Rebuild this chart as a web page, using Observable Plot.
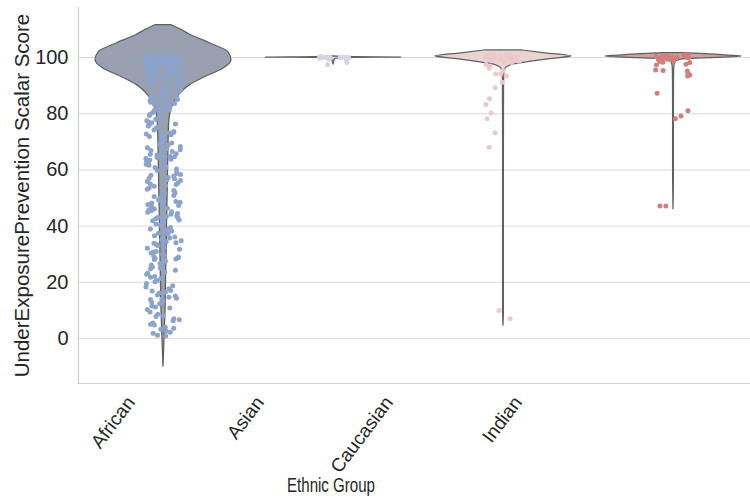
<!DOCTYPE html>
<html><head><meta charset="utf-8">
<script src="https://cdn.jsdelivr.net/npm/d3@7"></script>
<script src="https://cdn.jsdelivr.net/npm/@observablehq/plot@0.6"></script>
<style>
body{margin:0;background:#fff;}
#chart svg{display:block;}
</style></head><body><div id="chart"></div>
<script>
// ---------- data ----------
const groups = ["African", "Asian", "Caucasian", "Indian"];
const yTicks = [0, 20, 40, 60, 80, 100];
const yLabel = "UnderExposurePrevention Scalar Score";
const xLabel = "Ethnic Group";

const africanScores = [
  100, 99.6, 100, 98.7, 99.9, 97.4, 100, 99.1, 96.3, 100,
  98.2, 100, 99.4, 95.8, 100, 97.9, 99.8, 100, 94.6, 98.9,
  100, 96.7, 99.3, 100, 97.1, 95.2, 100, 98.4, 99.7, 93.8,
  100, 96.1, 98.6, 100, 99.2, 94.9, 97.6, 100, 92.7, 99.5,
  100, 95.5, 98.1, 100, 96.9, 93.2, 100, 99.0, 97.3, 91.6,
  100, 98.8, 94.3, 100, 96.5, 99.6, 92.1, 100, 97.8, 95.0,
  100, 90.8, 98.3, 99.9, 93.6, 100, 96.0, 97.0, 100, 89.7,
  99.4, 100, 94.1, 98.5, 100, 91.2, 95.7, 100, 99.1, 88.9,
  100, 97.5, 93.0, 100, 96.4, 90.3, 98.0, 100, 94.7, 87.6,
  100, 99.8, 92.4, 95.9, 100, 89.1, 97.2, 100, 93.4, 86.8,
  100, 98.6, 91.8, 100, 96.8, 88.2, 99.3, 100, 94.4, 90.0,
  100.6, 95.3, 87.1, 100, 97.7, 92.9, 100.8, 89.5, 98.1, 86.2,
  99.5, 97.1, 94.0, 91.4, 89.9, 88.4, 96.6, 93.9, 90.6, 87.9,
  85.4, 84.7, 83.9, 85.9, 82.6, 84.1, 81.8, 83.2, 80.9, 85.1, 82.1, 84.4, 81.2, 83.6, 80.4, 84.9, 82.9, 81.5,
  79.4, 78.6, 77.1, 76.8, 75.2, 74.9, 73.1, 72.8, 71.4, 70.6, 78.0, 76.3, 74.2, 73.7, 72.2, 71.9, 70.1, 79.8, 77.5, 75.6, 73.4, 71.1, 78.3, 76.0, 72.5,
  69.6, 68.3, 67.9, 66.1, 65.8, 65.3, 64.9, 64.4, 63.8, 63.2, 62.5, 61.7, 60.9, 60.3, 68.8, 67.2, 66.6, 65.0, 64.1, 63.5, 62.0, 61.2, 69.1, 66.9, 64.7, 60.6, 67.5, 65.6, 63.0,
  59.4, 58.7, 58.1, 57.3, 56.9, 56.2, 55.4, 54.8, 54.2, 53.6, 52.7, 51.9, 51.3, 50.5, 59.8, 57.8, 56.5, 55.9, 53.1, 52.2, 50.9, 58.4, 55.0, 51.6, 57.0, 54.5, 50.2,
  49.7, 49.1, 48.5, 48.0, 47.3, 46.8, 46.1, 45.5, 44.9, 44.2, 43.6, 43.1, 42.7, 42.2, 41.5, 40.8, 49.4, 48.8, 47.7, 46.4, 45.1, 44.5, 43.4, 42.5, 41.9, 41.1, 40.3, 48.2, 45.8, 42.9,
  39.5, 38.7, 37.9, 37.2, 36.6, 35.8, 35.1, 34.4, 33.9, 33.1, 32.5, 31.8, 31.0, 30.4, 39.0, 36.1, 34.8, 33.5, 32.1, 30.8, 38.3, 35.4, 37.5, 34.1,
  29.6, 29.2, 28.9, 28.5, 28.1, 27.4, 26.7, 25.8, 25.1, 24.3, 23.6, 22.9, 22.1, 21.4, 20.6, 29.9, 28.7, 27.9, 26.2, 24.8, 23.2, 21.8, 20.2, 28.3, 25.5,
  19.6, 18.8, 17.7, 16.9, 16.2, 15.5, 14.7, 13.9, 13.2, 12.4, 11.6, 10.9, 10.3, 18.3, 17.1, 15.1, 14.3, 12.8, 11.2, 16.5, 14.0,
  9.4, 8.6, 7.8, 7.0, 6.3, 5.5, 4.8, 4.0, 3.3, 2.6, 1.9, 1.2, 8.1, 6.7, 5.1, 3.7, 2.2, 0.9
];
const asianScores = [100, 100, 100, 100.2, 99.8, 100, 100.3, 99.7, 100, 100, 99.5, 100.1, 99.2, 98.2, 97.4, 100, 100.4, 99.9];
const caucasianScores = [
  100, 100.5, 99.8, 100.2, 99.5, 101, 100, 99.2, 100.7, 98.9, 100, 99.6, 101.2, 98.5, 100.3,
  99.9, 100, 98.2, 100.8, 99.4, 100, 99.1, 100.4, 98.7, 100,
  97.5, 97.0, 96.2, 95.4, 94.2, 94.2, 93.4, 91.2, 89.2, 85.3, 83.3, 80.2, 78.2, 73.2, 68.1, 10.0, 7.0
];
const indianScores = [
  100, 100.4, 99.6, 100.8, 99.3, 100, 100.2, 99.8, 101, 99.1, 100, 100.5, 98.8, 100, 99.5,
  100.7, 98.6, 100, 99.9, 100.3, 98.3, 100, 99.7, 100.1, 98.9, 100, 99.2,
  98.2, 97.3, 97.6, 95.4, 95.6, 95.2, 94.2, 93.4, 93.8, 87.3, 81.1, 79.2, 78.2, 47.2, 47.2
];

// violin outlines: score level and relative half-width (1 = widest)
const africanProfileY = [-10, -5, 0, 5, 10, 20, 30, 40, 50, 60, 70, 75, 80, 84, 87, 90, 93, 96, 99, 102, 105, 108, 110, 111.5];
const africanProfileW = [0, 0.008, 0.015, 0.022, 0.03, 0.037, 0.045, 0.052, 0.06, 0.067, 0.075, 0.08, 0.10, 0.16, 0.24, 0.38, 0.61, 0.88, 1.0, 0.95, 0.69, 0.40, 0.25, 0.12];
const asianProfileY = [97.5, 98.5, 99.5, 99.85, 100, 100.15, 100.4];
const asianProfileW = [0, 0.01, 0.02, 0.3, 1.0, 0.3, 0];
const caucasianProfileY = [4.6, 10, 30, 60, 80, 90, 94, 96, 96.8, 97.7, 98.5, 99.5, 100.4, 101.5, 102.5];
const caucasianProfileW = [0, 0.006, 0.006, 0.006, 0.007, 0.008, 0.012, 0.03, 0.07, 0.19, 0.41, 0.71, 1.0, 0.62, 0.28];
const indianProfileY = [46, 60, 80, 90, 96, 98.5, 99.2, 99.6, 100, 100.4, 100.7, 101.1, 101.4, 101.6];
const indianProfileW = [0, 0.006, 0.006, 0.007, 0.01, 0.03, 0.1, 0.35, 0.75, 1.0, 0.8, 0.55, 0.3, 0.12];

// ---------- styles ----------
const dotColors = ["#8ca3cc", "#d3d6e6", "#ecc9c9", "#d27f7b"];
const violinFills = ["#99a1b0", "#dedfe7", "#e8d4d3", "#cfa19e"];
const font = "'Liberation Sans', Arial, sans-serif";
const ink = "#262626";

// ---------- build tables ----------
const scoresByGroup = [africanScores, asianScores, caucasianScores, indianScores];
const profiles = [
  [africanProfileY, africanProfileW], [asianProfileY, asianProfileW],
  [caucasianProfileY, caucasianProfileW], [indianProfileY, indianProfileW]
];
const points = [];
scoresByGroup.forEach((arr, gi) => {
  const rng = d3.randomLcg(0.137 + gi * 0.21); // strip-plot jitter (layout only)
  arr.forEach(v => points.push({group: groups[gi], gi, value: v, jitter: (rng() - 0.5) * 0.21}));
});
const violins = [];
profiles.forEach(([ys, ws], gi) => ys.forEach((y, k) => violins.push({group: groups[gi], gi, y, w: ws[k]})));

const yDomain = [-16, 117.8];

const main = Plot.plot({
  width: 750, height: 386,
  marginTop: 7, marginBottom: 3, marginLeft: 78, marginRight: 0,
  x: {domain: [-0.5, 3.5], range: [78, 758], axis: null},
  y: {domain: yDomain, axis: null},
  style: {fontFamily: font, color: ink, background: "white"},
  marks: [
    Plot.gridY(yTicks, {stroke: "#d9d9d9", strokeOpacity: 1, strokeWidth: 1}),
    Plot.ruleX([-0.5], {stroke: "#cfcfcf", strokeWidth: 1.2}),
    Plot.ruleY([yDomain[0]], {stroke: "#cfcfcf", strokeWidth: 1.2}),
    ...groups.map((g, gi) => Plot.areaX(violins.filter(d => d.gi === gi), {
      y: "y", x1: d => d.gi - 0.4 * d.w, x2: d => d.gi + 0.4 * d.w,
      fill: violinFills[gi], stroke: "#606060", strokeWidth: 1.25, curve: "monotone-y"
    })),
    ...groups.map((g, gi) => Plot.dot(points.filter(d => d.gi === gi), {
      x: d => d.gi + d.jitter, y: "value", r: 2.5, fill: dotColors[gi], stroke: "none"
    })),
    Plot.axisY(yTicks, {tickSize: 0, tickPadding: 10, fontSize: 20, label: null, fill: ink}),
    Plot.text([yLabel], {frameAnchor: "left", textAnchor: "middle", lineAnchor: "middle", rotate: -90, dx: -56, fontSize: 20.5, fill: ink})
  ]
});

const labels = Plot.plot({
  width: 750, height: 114,
  marginTop: 0, marginBottom: 0, marginLeft: 72.5, marginRight: 161.5,
  x: {type: "band", domain: groups, padding: 0, axis: null},
  style: {fontFamily: font, color: ink, background: "white"},
  marks: [
    Plot.text(groups, {x: d => d, frameAnchor: "top", dx: -13, dy: 8, rotate: -53, textAnchor: "end", lineAnchor: "top", fontSize: 19, fill: ink}),
    Plot.text([xLabel], {frameAnchor: "bottom", dy: -15, lineAnchor: "middle", fontSize: 20.5, fill: ink})
  ]
});
labels.querySelectorAll("text").forEach(t => {
  if (t.textContent === xLabel) {
    t.setAttribute("textLength", 88);
    t.setAttribute("lengthAdjust", "spacingAndGlyphs");
  }
});

document.getElementById("chart").append(main, labels);
</script></body></html>
